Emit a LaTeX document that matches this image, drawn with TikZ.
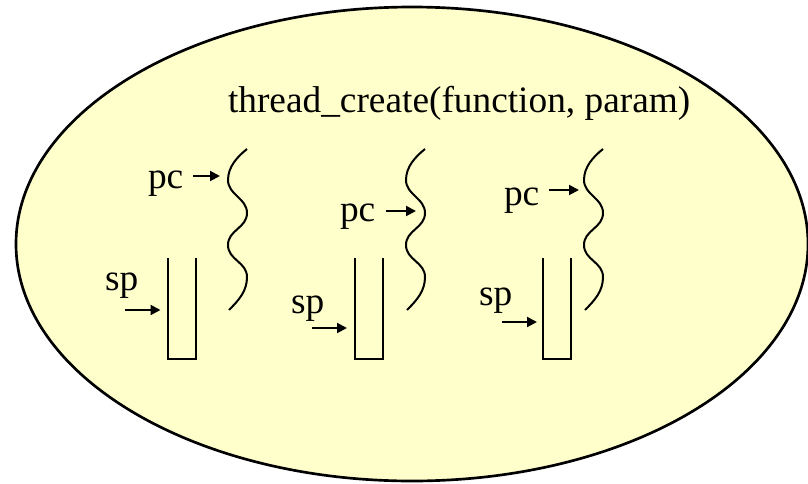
\documentclass[tikz,border=0pt]{standalone}
\usepackage{fontspec}
\setmainfont{Liberation Serif}
\usepackage{xcolor}
\usetikzlibrary{arrows.meta, positioning, shapes.geometric}

\definecolor{procfill}{HTML}{FFFFCC}

\begin{document}
\begin{tikzpicture}[
  x=0.75pt, y=-0.75pt,
  line width=1.5pt,
  font=\fontsize{28}{33}\selectfont,
  lbl/.style={inner sep=0pt, anchor=base west},
  stackbox/.style={minimum width=19.5pt, minimum height=74.25pt, inner sep=0pt},
  arr/.style={-{Triangle[length=7.5pt, width=7.5pt]}},
  thread/.pic={
    \draw (0,0) .. controls (-10,8) and (-19,18) .. (-19,31)
      .. controls (-19,46) and (0,49) .. (0,64)
      .. controls (0,79) and (-19,81) .. (-19,96)
      .. controls (-19,111) and (0,113) .. (0,128)
      .. controls (0,142) and (-8,151) .. (-18,161);
  }
]
  \useasboundingbox (0,0) rectangle (808,483);

  % the process
  \node[draw, ellipse, fill=procfill, inner sep=0pt, line width=2pt,
        minimum width=594pt, minimum height=355.5pt] (proc) at (412,244) {};
  \node[lbl] (call) at (227,112) {thread\_create(function, param)};

  % thread 1
  \coordinate (w1) at (247,149);
  \pic at (w1) {thread};
  \node[stackbox] (st1) at (181.5,308.5) {};
  \draw (st1.north west) -- (st1.south west) -- (st1.south east) -- (st1.north east);
  \node[lbl] (pc1) at (147,188) {pc};
  \node[lbl] (sp1) at (104,290) {sp};
  \coordinate (pc1a) at (193,176);
  \coordinate (sp1a) at (125,310);
  \draw[arr] (pc1a) -- ([shift={(-27,0)}]w1 |- pc1a);
  \draw[arr] (sp1a) -- ([shift={(-7,0)}]st1.west |- sp1a);

  % thread 2
  \coordinate (w2) at (425,149);
  \pic at (w2) {thread};
  \node[stackbox] (st2) at (369,308.5) {};
  \draw (st2.north west) -- (st2.south west) -- (st2.south east) -- (st2.north east);
  \node[lbl] (pc2) at (339,221) {pc};
  \node[lbl] (sp2) at (290,313) {sp};
  \coordinate (pc2a) at (386,211);
  \coordinate (sp2a) at (312,328);
  \draw[arr] (pc2a) -- ([shift={(-9,0)}]w2 |- pc2a);
  \draw[arr] (sp2a) -- ([shift={(-8,0)}]st2.west |- sp2a);

  % thread 3
  \coordinate (w3) at (603,149);
  \pic at (w3) {thread};
  \node[stackbox] (st3) at (557,308.5) {};
  \draw (st3.north west) -- (st3.south west) -- (st3.south east) -- (st3.north east);
  \node[lbl] (pc3) at (503,205) {pc};
  \node[lbl] (sp3) at (478,305) {sp};
  \coordinate (pc3a) at (549,190);
  \coordinate (sp3a) at (502,322);
  \draw[arr] (pc3a) -- ([shift={(-24,0)}]w3 |- pc3a);
  \draw[arr] (sp3a) -- ([shift={(-6,0)}]st3.west |- sp3a);
\end{tikzpicture}
\end{document}
